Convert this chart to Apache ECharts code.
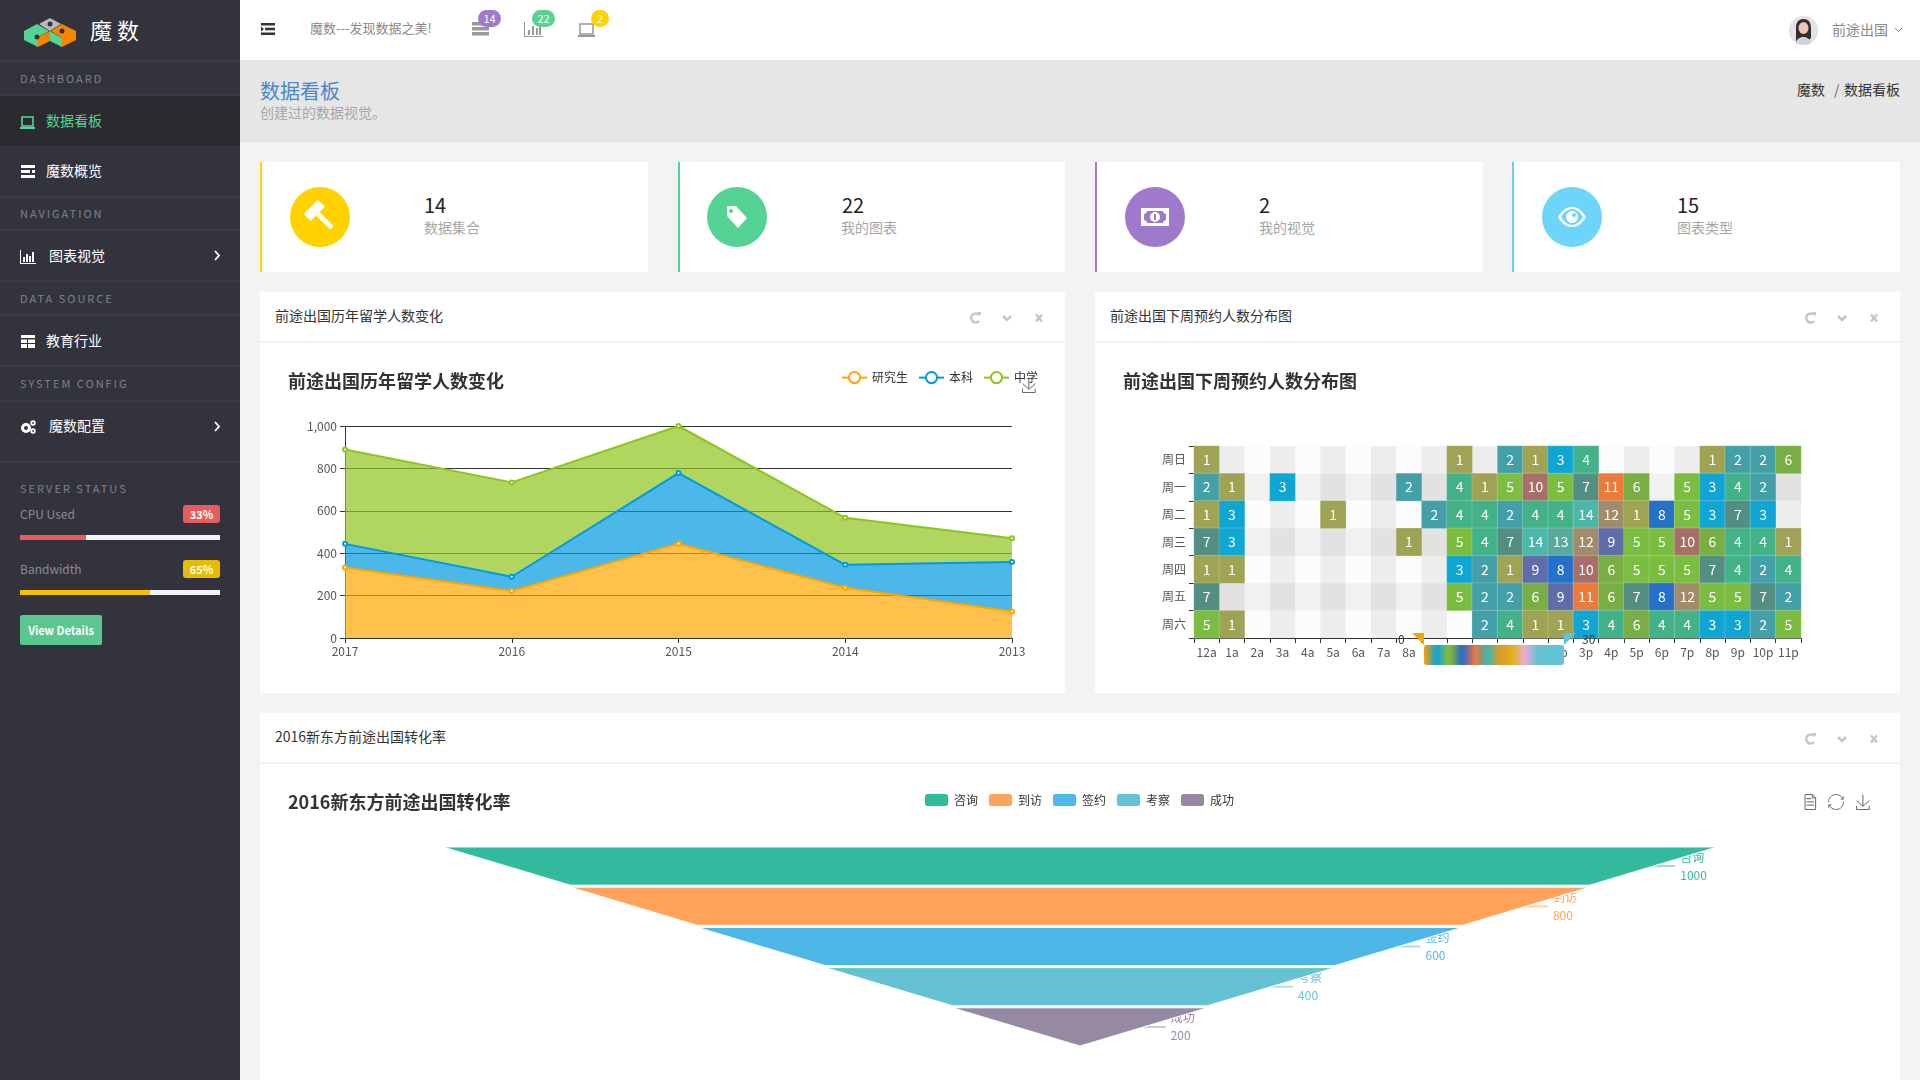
<!DOCTYPE html>
<html>
<head>
<meta charset="utf-8">
<title>魔数</title>
<script src="https://cdn.jsdelivr.net/npm/echarts@6/dist/echarts.min.js"></script>
<style>
  html, body { margin: 0; width: 1920px; height: 1080px; overflow: hidden; background: #f3f3f3;
    font-family: "Noto Sans CJK SC", "Noto Sans", sans-serif; color: #333; }
  .box { position: absolute; }
  .t { position: absolute; white-space: nowrap; line-height: 20px; font-size: 14px; }
  .sec { color: #7f8188; font-size: 11px; letter-spacing: 2px; left: 20px; }
  .nav { color: #fff; left: 46px; }
  .line { position: absolute; left: 0; width: 240px; height: 2px; background: #3a3a44; }
  .card { position: absolute; top: 162px; height: 110px; background: #fff; border-left: 2px solid; box-sizing: border-box; }
  .circle { position: absolute; top: 187px; width: 60px; height: 60px; border-radius: 50%; }
  .num { font-size: 20px; color: #222; top: 195px; }
  .lab { color: #a6a6a6; top: 217px; }
  .panel { position: absolute; background: #fff; }
  .phead { position: absolute; left: 0; right: 0; top: 0; height: 51px; border-bottom: 2px solid #f3f3f3; box-sizing: border-box; }
  .pt { left: 15px; top: 13px; color: #333; }
  .badge { position: absolute; height: 17px; line-height: 17px; border-radius: 9px; color: #fff; font-size: 11px; text-align: center; }
  .pill { position: absolute; left: 183px; width: 37px; height: 18px; line-height: 18px; border-radius: 3px; color: #fff; font-size: 11px; font-weight: 700; text-align: center; }
  svg { position: absolute; overflow: visible; }
  .chart { position: absolute; }
</style>
</head>
<body>

<!-- sidebar -->
<div class="box" style="left:0;top:0;width:240px;height:1080px;background:#33333d"></div>
<svg style="left:0;top:0" width="240" height="60">
  <polygon fill="#b9b9b9" points="39,24 50,18 61,24 50,31"/>
  <polygon fill="#55d394" points="24,31 37,24 49,31 38,37 38,47 24,40"/>
  <polygon fill="#f58400" points="38,37 50,31 50,41 38,47"/>
  <polygon fill="#55d394" points="50,31 62,38 62,47 50,41"/>
  <polygon fill="#f58400" points="51,31 62,24 76,31 76,40 62,47 62,38"/>
  <circle cx="37" cy="37" r="2.5" fill="#33333d"/><circle cx="50" cy="24" r="2.5" fill="#33333d"/><circle cx="62" cy="31" r="2.5" fill="#33333d"/>
</svg>
<div class="t" style="left:90px;top:19px;color:#fff;font-size:22px;letter-spacing:5px">魔数</div>
<div class="line" style="top:60px"></div>
<div class="t sec" style="top:68px">DASHBOARD</div>
<div class="line" style="top:94px"></div>
<div class="box" style="left:0;top:96px;width:240px;height:50px;background:#2a2a30"></div>
<svg style="left:20px;top:116px" width="16" height="14"><rect x="2" y="1" width="11" height="9" fill="none" stroke="#55d394" stroke-width="1.6"/><rect x="0" y="11" width="15" height="2" fill="#55d394"/></svg>
<div class="t nav" style="top:110px;color:#55d394">数据看板</div>
<svg style="left:21px;top:165px" width="15" height="14"><path fill="#fff" d="M0 0h14v3H0zM0 5h9v3H0zM11 5h3v3h-3zM0 10h14v3H0z"/></svg>
<div class="t nav" style="top:160px">魔数概览</div>
<div class="line" style="top:196px"></div>
<div class="t sec" style="top:203px">NAVIGATION</div>
<div class="line" style="top:229px"></div>
<svg style="left:20px;top:250px" width="16" height="14"><path fill="#fff" d="M0 0h1v13h15v1H0zM3 7h2v5H3zM6 4h2v8H6zM9 6h2v6H9zM12 2h2v10h-2z"/></svg>
<div class="t nav" style="left:49px;top:245px">图表视觉</div>
<svg style="left:213px;top:250px" width="8" height="11"><path fill="none" stroke="#fff" stroke-width="1.8" d="M2 1l4 4.5-4 4.5"/></svg>
<div class="line" style="top:280px"></div>
<div class="t sec" style="top:288px">DATA SOURCE</div>
<div class="line" style="top:314px"></div>
<svg style="left:21px;top:335px" width="15" height="14"><path fill="#fff" d="M0 0h14v3H0zM0 4.500h6v3.500H0zM7 4.500h7v3.500H7zM0 9h6v4H0zM7 9h7v4H7z"/></svg>
<div class="t nav" style="top:330px">教育行业</div>
<div class="line" style="top:365px"></div>
<div class="t sec" style="top:373px">SYSTEM CONFIG</div>
<div class="line" style="top:400px"></div>
<svg style="left:20px;top:420px" width="16" height="14"><circle cx="6" cy="8" r="3.500" fill="none" stroke="#fff" stroke-width="3"/><circle cx="13" cy="3" r="1.800" fill="none" stroke="#fff" stroke-width="1.800"/><circle cx="13" cy="11" r="1.800" fill="none" stroke="#fff" stroke-width="1.800"/></svg>
<div class="t nav" style="left:49px;top:415px">魔数配置</div>
<svg style="left:213px;top:421px" width="8" height="11"><path fill="none" stroke="#fff" stroke-width="1.8" d="M2 1l4 4.500-4 4.500"/></svg>
<div class="line" style="top:461px"></div>
<div class="t sec" style="top:478px">SERVER STATUS</div>
<div class="t" style="left:20px;top:504px;color:#8a8b90;font-size:12px">CPU Used</div>
<div class="pill" style="top:505px;background:#e85c5c">33%</div>
<div class="box" style="left:20px;top:535px;width:200px;height:5px;background:#f3f3f7"></div>
<div class="box" style="left:20px;top:535px;width:66px;height:5px;background:#e85c5c"></div>
<div class="t" style="left:20px;top:559px;color:#8a8b90;font-size:12px">Bandwidth</div>
<div class="pill" style="top:560px;background:#e5bc00">65%</div>
<div class="box" style="left:20px;top:590px;width:200px;height:5px;background:#f3f3f7"></div>
<div class="box" style="left:20px;top:590px;width:130px;height:5px;background:#f2c200"></div>
<div class="box" style="left:20px;top:615px;width:82px;height:30px;line-height:30px;text-align:center;background:#5ac690;color:#fff;font-size:11px;font-weight:700;border-radius:2px">View Details</div>

<!-- top bar -->
<div class="box" style="left:240px;top:0;width:1680px;height:60px;background:#fff"></div>
<svg style="left:261px;top:23px" width="15" height="13"><path fill="#333" d="M0 0h14v2.500H0zM4 4.800h10v2.500H4zM0 9.500h14v2.500H0zM0 3.500l3 2.500-3 2.500z"/></svg>
<div class="t" style="left:310px;top:18px;color:#888;font-size:13px">魔数---发现数据之美!</div>
<svg style="left:472px;top:22px" width="17" height="14"><path fill="#999" d="M0 0h17v3.500H0zM0 5h17v3.500H0zM0 10h17v3.500H0z"/></svg>
<div class="badge" style="left:478px;top:10px;width:23px;background:#9e79cc">14</div>
<svg style="left:524px;top:22px" width="19" height="15"><path fill="#999" d="M0 0h1v14h18v1H0zM4 8h2v5H4zM8 4h2v9H8zM12 6h2v7h-2zM15 2h2v11h-2z"/></svg>
<div class="badge" style="left:532px;top:10px;width:23px;background:#55d394">22</div>
<svg style="left:578px;top:23px" width="18" height="14"><rect x="2" y="1" width="13" height="10" fill="none" stroke="#999" stroke-width="1.500"/><rect x="0" y="12" width="17" height="2" fill="#999"/></svg>
<div class="badge" style="left:591px;top:10px;width:18px;background:#ffd200">2</div>
<svg style="left:1789px;top:16px" width="29" height="29">
  <defs><clipPath id="av"><circle cx="14.500" cy="14.500" r="14.500"/></clipPath></defs>
  <g clip-path="url(#av)">
    <rect width="29" height="29" fill="#e2e0ea"/>
    <path fill="#3a2a2a" d="M7 29V12c0-6 3-9 7.500-9S22 6 22 12v10l-3 3H10z"/>
    <ellipse cx="14.500" cy="12" rx="5" ry="6" fill="#eac6b8"/>
    <path fill="#d0d2dc" d="M6 29c1-6 5-8 8.500-8s7 2 8.500 8z"/>
  </g>
</svg>
<div class="t" style="left:1832px;top:19px;color:#888">前途出国</div>
<svg style="left:1894px;top:27px" width="9" height="6"><path fill="none" stroke="#888" d="M1 1l3.500 3.500L8 1"/></svg>

<!-- page title -->
<div class="box" style="left:240px;top:60px;width:1680px;height:82px;background:#e6e6e6"></div>
<div class="t" style="left:260px;top:81px;font-size:20px;color:#4a88c7">数据看板</div>
<div class="t" style="left:260px;top:102px;font-size:14px;color:#a6a6a6">创建过的数据视觉。</div>
<div class="t" style="left:1797px;top:79px">魔数</div>
<div class="t" style="left:1834px;top:79px;color:#666">/</div>
<div class="t" style="left:1844px;top:79px">数据看板</div>

<!-- stat cards -->
<div class="card" style="left:260px;width:388px;border-color:#ffd200"></div>
<div class="circle" style="left:290px;background:#ffd200"></div>
<svg style="left:320px;top:216px" width="1" height="1"><g transform="rotate(45)" fill="#fff"><rect x="-13" y="-10" width="10" height="20" rx="1"/><rect x="-3" y="-2.500" width="20" height="5" rx="2"/></g></svg>
<div class="t num" style="left:424px">14</div><div class="t lab" style="left:424px">数据集合</div>

<div class="card" style="left:678px;width:387px;border-color:#55d394"></div>
<div class="circle" style="left:707px;background:#55d394"></div>
<svg style="left:725px;top:205px" width="24" height="24"><path fill="#fff" d="M2 1h9l11 12-9 10L2 11zM6 4a2 2 0 1 0 .01 0z" fill-rule="evenodd"/></svg>
<div class="t num" style="left:842px">22</div><div class="t lab" style="left:841px">我的图表</div>

<div class="card" style="left:1095px;width:388px;border-color:#9e79cc"></div>
<div class="circle" style="left:1125px;background:#9e79cc"></div>
<svg style="left:1141px;top:208px" width="28" height="18"><path fill="#fff" fill-rule="evenodd" d="M0 0h28v18H0zM6 3c0 2-2 3-3 3v6c1 0 3 1 3 3h16c0-2 2-3 3-3V6c-1 0-3-1-3-3z"/><circle cx="14" cy="9" r="5" fill="#fff"/><rect x="13" y="6" width="2" height="6" fill="#9e79cc"/></svg>
<div class="t num" style="left:1259px">2</div><div class="t lab" style="left:1259px">我的视觉</div>

<div class="card" style="left:1512px;width:388px;border-color:#6dcff0"></div>
<div class="circle" style="left:1542px;background:#6dd5f8"></div>
<svg style="left:1558px;top:207px" width="28" height="20"><path fill="#fff" fill-rule="evenodd" d="M0 10C4 3 9 0 14 0s10 3 14 10c-4 7-9 10-14 10S4 17 0 10zM3 10c3 5 7 8 11 8s8-3 11-8c-3-5-7-8-11-8S6 5 3 10z"/><circle cx="14" cy="10" r="6" fill="#fff"/><circle cx="16" cy="8" r="2" fill="#6dd5f8"/></svg>
<div class="t num" style="left:1677px">15</div><div class="t lab" style="left:1677px">图表类型</div>

<!-- panels -->
<div class="panel" style="left:260px;top:292px;width:805px;height:401px">
  <div class="phead"></div><div class="t pt">前途出国历年留学人数变化</div>
</div>
<div class="panel" style="left:1095px;top:292px;width:805px;height:401px">
  <div class="phead"></div><div class="t pt">前途出国下周预约人数分布图</div>
</div>
<div class="panel" style="left:260px;top:713px;width:1640px;height:367px">
  <div class="phead"></div><div class="t pt">2016新东方前途出国转化率</div>
</div>
<svg style="left:0;top:0" width="1920" height="1080" fill="none" stroke="#c6c6ce" stroke-width="2.600">
  <defs>
    <g id="ctl">
      <path d="M5 -3a4.500 4.500 0 1 0 0 6"/><path fill="#c6c6ce" stroke="none" d="M3 -6h4v4z"/>
      <path d="M29 -2l4 4 4-4"/><path d="M62 -3.500l6 7M68 -3.500l-6 7"/>
    </g>
  </defs>
  <use href="#ctl" x="974" y="318"/>
  <use href="#ctl" x="1809" y="318"/>
  <use href="#ctl" x="1809" y="739"/>
</svg>

<div id="lineChart" class="chart" style="left:260px;top:342px;width:805px;height:351px"></div>
<div id="heatChart" class="chart" style="left:1095px;top:342px;width:805px;height:351px"></div>
<div id="funnelChart" class="chart" style="left:260px;top:763px;width:1640px;height:317px"></div>

<script>
const baseFont = '"Noto Sans CJK SC", "Noto Sans", sans-serif'

// line chart
const years = ['2017', '2016', '2015', '2014', '2013']
const yTicks = { min: 0, max: 1000, step: 200 }
const graduate = [333, 222, 445, 237, 125]
const undergrad = [111, 67, 333, 108, 233]
const middleSchool = [445, 445, 222, 222, 112]

// heatmap, rows read top to bottom, 0 = no cell
const hours = ['12a', '1a', '2a', '3a', '4a', '5a', '6a', '7a', '8a', '9a', '10a', '11a',
  '12p', '1p', '2p', '3p', '4p', '5p', '6p', '7p', '8p', '9p', '10p', '11p']
const days = ['周日', '周一', '周二', '周三', '周四', '周五', '周六']
const sunday = [1, 0, 0, 0, 0, 0, 0, 0, 0, 0, 1, 0, 2, 1, 3, 4, 0, 0, 0, 0, 1, 2, 2, 6]
const monday = [2, 1, 0, 3, 0, 0, 0, 0, 2, 0, 4, 1, 5, 10, 5, 7, 11, 6, 0, 5, 3, 4, 2, 0]
const tuesday = [1, 3, 0, 0, 0, 1, 0, 0, 0, 2, 4, 4, 2, 4, 4, 14, 12, 1, 8, 5, 3, 7, 3, 0]
const wednesday = [7, 3, 0, 0, 0, 0, 0, 0, 1, 0, 5, 4, 7, 14, 13, 12, 9, 5, 5, 10, 6, 4, 4, 1]
const thursday = [1, 1, 0, 0, 0, 0, 0, 0, 0, 0, 3, 2, 1, 9, 8, 10, 6, 5, 5, 5, 7, 4, 2, 4]
const friday = [7, 0, 0, 0, 0, 0, 0, 0, 0, 0, 5, 2, 2, 6, 9, 11, 6, 7, 8, 12, 5, 5, 7, 2]
const saturday = [5, 1, 0, 0, 0, 0, 0, 0, 0, 0, 0, 2, 4, 1, 1, 3, 4, 6, 4, 4, 3, 3, 2, 5]
const dayRows = [sunday, monday, tuesday, wednesday, thursday, friday, saturday]
const heatRange = [0, 30]
// one colour per integer value of the visual map, 0 to 30
const heatColors = ['#f7a400', '#9fa354', '#44a0a8', '#10a6d4', '#44b288', '#7abd40', '#78ae44', '#528e82',
  '#2570c8', '#5f6ea8', '#a86f68', '#ec7a3a', '#a08c6a', '#58aa9c', '#4ab8a8', '#90a868', '#d89a28', '#dca024',
  '#dea820', '#e0b020', '#e0b060', '#e4b0b0', '#e8a8d8', '#a8b4d6', '#70bed6', '#62c2d6', '#62c2d6', '#62c2d6',
  '#62c2d6', '#62c2d6', '#62c2d6']

// funnel
const stages = ['咨询', '到访', '签约', '考察', '成功']
const stageValues = [1000, 800, 600, 400, 200]
const stageColors = ['#33bb9f', '#ffa25a', '#4db8e8', '#64c2d4', '#9589a4']

const heatData = []
dayRows.forEach((row, r) => {
  row.forEach((v, h) => {
    if (v > 0) heatData.push([h, days.length - 1 - r, v])
  })
})

function areaSeries(name, values, color) {
  return {
    name: name,
    type: 'line',
    stack: 'total',
    data: values,
    symbol: 'emptyCircle',
    symbolSize: 4,
    showSymbol: true,
    lineStyle: { width: 2, color: color },
    itemStyle: { color: color },
    areaStyle: { color: color, opacity: 0.7 }
  }
}

const titleStyle = { fontSize: 18, fontWeight: 'bold', color: '#333', fontFamily: baseFont }
const axisLabel = { color: '#555', fontSize: 12 }
const axisLine = { show: true, lineStyle: { color: '#333', width: 1 } }

const lineChart = echarts.init(document.getElementById('lineChart'))
lineChart.setOption({
  animation: false,
  textStyle: { fontFamily: baseFont },
  title: { text: '前途出国历年留学人数变化', left: 28, top: 30, padding: 0, textStyle: titleStyle },
  legend: {
    left: 581, top: 29, padding: 0, itemGap: 10,
    data: ['研究生', '本科', '中学'],
    textStyle: { color: '#333', fontSize: 12 }
  },
  toolbox: {
    left: 745, top: 18, itemSize: 15, showTitle: false,
    feature: { saveAsImage: {} },
    iconStyle: { borderColor: '#666' }
  },
  grid: { left: 85, right: 53, top: 84, bottom: 55 },
  xAxis: {
    type: 'category', boundaryGap: false, data: years,
    axisLine: axisLine, axisTick: { show: true, lineStyle: { color: '#333' } },
    axisLabel: Object.assign({ margin: 7 }, axisLabel)
  },
  yAxis: {
    type: 'value', min: yTicks.min, max: yTicks.max, interval: yTicks.step,
    axisLine: axisLine, axisTick: { show: true, lineStyle: { color: '#333' } },
    axisLabel: Object.assign({ formatter: v => v.toLocaleString('en-US') }, axisLabel),
    splitLine: { show: true, lineStyle: { color: '#333', width: 1 } }
  },
  series: [
    areaSeries('研究生', graduate, '#ffa500'),
    areaSeries('本科', undergrad, '#009ae1'),
    areaSeries('中学', middleSchool, '#8ec41c')
  ]
})

const heatChart = echarts.init(document.getElementById('heatChart'))
const bands = { show: true, areaStyle: { color: ['rgba(250,250,250,0.3)', 'rgba(200,200,200,0.3)'] } }
heatChart.setOption({
  animation: false,
  textStyle: { fontFamily: baseFont },
  title: { text: '前途出国下周预约人数分布图', left: 28, top: 30, padding: 0, textStyle: titleStyle },
  grid: { left: 99, right: 99, top: 104, bottom: 55 },
  xAxis: {
    type: 'category', data: hours, splitArea: bands,
    axisLine: axisLine, axisTick: { show: true, lineStyle: { color: '#333' } },
    axisLabel: Object.assign({ interval: 0 }, axisLabel)
  },
  yAxis: {
    type: 'category', data: days.slice().reverse(), splitArea: bands,
    axisLine: axisLine, axisTick: { show: true, lineStyle: { color: '#333' } },
    axisLabel: axisLabel
  },
  visualMap: {
    type: 'continuous', min: heatRange[0], max: heatRange[1], dimension: 2,
    orient: 'horizontal', left: 329, top: 303, padding: 0,
    itemWidth: 20, itemHeight: 140, calculable: false, showLabel: false,
    inRange: { color: heatColors }
  },
  // the old style range handles of the visual map
  graphic: [
    { type: 'polygon', z: 100, shape: { points: [[317, 291], [329, 291], [329, 303]] }, style: { fill: heatColors[0] } },
    { type: 'polygon', z: 100, shape: { points: [[469, 291], [481, 291], [469, 303]] }, style: { fill: heatColors[30] } },
    { type: 'text', z: 100, x: 303, y: 291, style: { text: String(heatRange[0]), fill: '#333', font: '12px ' + baseFont } },
    { type: 'text', z: 100, x: 487, y: 291, style: { text: String(heatRange[1]), fill: '#333', font: '12px ' + baseFont } }
  ],
  series: [{
    type: 'heatmap',
    data: heatData,
    label: { show: true, color: '#fff', fontSize: 14, textBorderWidth: 0 },
    itemStyle: { borderColor: 'rgba(255,255,255,0.2)', borderWidth: 1 }
  }]
})

const funnelData = stages.map((s, i) => ({
  name: s,
  value: stageValues[i],
  itemStyle: { color: stageColors[i] },
  label: { color: stageColors[i] },
  labelLine: { lineStyle: { color: stageColors[i] } }
}))
function funnelSeries(z, withLabel) {
  return {
    type: 'funnel',
    z: z,
    left: 183, top: 84, width: 1274, height: 199,
    min: 0, max: 1000, minSize: '0%', maxSize: '100%',
    sort: 'descending', gap: 2,
    data: funnelData,
    label: { show: withLabel, position: 'right', formatter: '{b}\n{c}', fontSize: 12, lineHeight: 18 },
    labelLine: { show: withLabel, length: 22, lineStyle: { width: 2, opacity: 0.5 } }
  }
}
const funnelChart = echarts.init(document.getElementById('funnelChart'))
funnelChart.setOption({
  animation: false,
  textStyle: { fontFamily: baseFont },
  color: stageColors,
  title: { text: '2016新东方前途出国转化率', left: 28, top: 30, padding: 0, textStyle: titleStyle },
  legend: {
    left: 663, top: 29, padding: 0, itemGap: 9, icon: 'roundRect',
    data: stages, textStyle: { color: '#333', fontSize: 12 }
  },
  toolbox: {
    right: 13, top: 14, itemSize: 15, itemGap: 8, showTitle: false,
    feature: { dataView: {}, restore: {}, saveAsImage: {} },
    iconStyle: { borderColor: '#666' }
  },
  // the labelled copy sits under the plain one, the slopes cover the label tops as in the original
  series: [funnelSeries(1, true), funnelSeries(2, false)]
})
</script>
</body>
</html>
